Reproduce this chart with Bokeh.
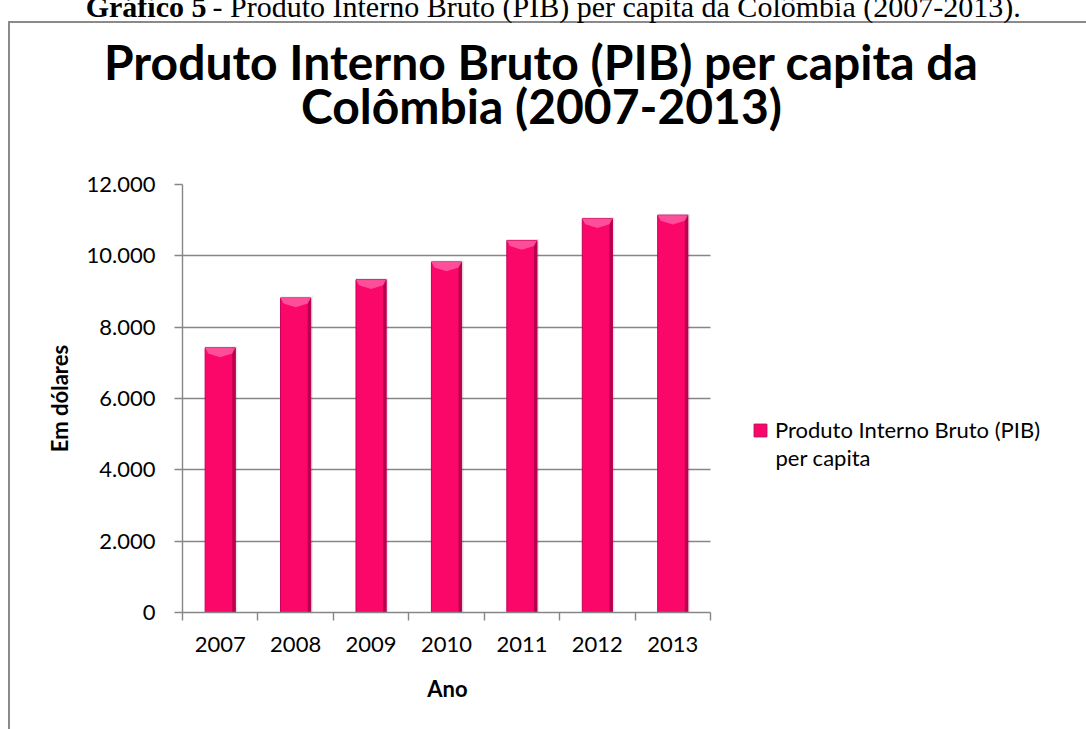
from bokeh.plotting import figure
from bokeh.models import Range1d, FixedTicker, Label, Legend, LegendItem, Grid
from bokeh.embed import file_html
from bokeh.resources import INLINE

# ---- data ----
years = ["2007", "2008", "2009", "2010", "2011", "2012", "2013"]
pib_per_capita = [7420, 8820, 9330, 9830, 10430, 11040, 11140]
y_ticks = [0, 2000, 4000, 6000, 8000, 10000, 12000]
y_tick_labels = ["0", "2.000", "4.000", "6.000", "8.000", "10.000", "12.000"]

caption_bold = "Gráfico 5"
caption_rest = "- Produto Interno Bruto (PIB) per capita da Colômbia (2007-2013)."
title_line1 = "Produto Interno Bruto (PIB) per capita da"
title_line2 = "Colômbia (2007-2013)"
legend_line1 = "Produto Interno Bruto (PIB)"
legend_line2 = "per capita"
x_title = "Ano"
y_title = "Em dólares"

# ---- styles / layout ----
FONT = "Lato"
GRAY = "#868686"
PINK = "#FB0769"
BAR_W = 0.4
Y_MAX = 12000
W, H = 1086, 729

n = len(years)
centers = [i + 0.5 for i in range(n)]

# plot area in picture pixels; the frame runs on to the right edge to hold the legend
FL, AX_R, FT, FB = 182, 710, 184, 612
PX_PER_CAT = (AX_R - FL) / n
X_END = (W - FL) / PX_PER_CAT


def dx(X):
    return (X - FL) / PX_PER_CAT


def dy(Y):
    return (FB - Y) * Y_MAX / (FB - FT)


p = figure(width=W, height=H, x_range=Range1d(0, X_END), y_range=Range1d(0, Y_MAX),
           output_backend="svg", toolbar_location=None,
           min_border_left=FL, min_border_right=0, min_border_top=FT, min_border_bottom=H - FB)
p.outline_line_color = None
p.background_fill_color = "white"
p.border_fill_color = None
# outer chart-area border (left and top edges), drawn behind the canvas
p.styles = {"background": "linear-gradient(#8a8a8a,#8a8a8a) 8px 21px / 2px 900px no-repeat, "
                          "linear-gradient(#8a8a8a,#8a8a8a) 8px 21px / 1200px 2px no-repeat, #ffffff"}

# grid (horizontal lines only, limited to the category area)
p.xgrid.grid_line_color = None
if "cross_bounds" in Grid.properties():
    p.ygrid.grid_line_color = GRAY
    p.ygrid.grid_line_width = 1.4
    p.ygrid.cross_bounds = (0, n)
else:
    p.ygrid.grid_line_color = None
    p.segment(x0=[0] * len(y_ticks), x1=[n] * len(y_ticks), y0=y_ticks, y1=y_ticks,
              line_color=GRAY, line_width=1.4)

# bars: soft shadow, body, right edge shading, top bevel
p.vbar(x=[c + 0.012 for c in centers], top=[v + 40 for v in pib_per_capita], width=BAR_W + 0.03,
       fill_color="black", fill_alpha=0.10, line_color=None)
bars = p.vbar(x=centers, top=pib_per_capita, width=BAR_W, fill_color=PINK,
              line_color="#C4005A", line_width=1)
p.vbar(x=[c + BAR_W / 2 - 0.02 for c in centers], top=pib_per_capita, width=0.04,
       fill_color="#B8004E", line_color=None)
d = 260
p.patches(xs=[[c - BAR_W / 2, c + BAR_W / 2, c + BAR_W / 2 - 0.04, c, c - BAR_W / 2 + 0.04] for c in centers],
          ys=[[v, v, v - d * 0.6, v - d, v - d * 0.6] for v in pib_per_capita],
          fill_color="#FF5AA2", fill_alpha=0.85, line_color=None)

# x axis
p.xaxis.bounds = (0, n)
p.xaxis.ticker = FixedTicker(ticks=centers, minor_ticks=list(range(n + 1)))
p.xaxis.major_label_overrides = {c: y for c, y in zip(centers, years)}
p.xaxis.axis_line_color = GRAY
p.xaxis.axis_line_width = 1.4
p.xaxis.major_tick_line_color = None
p.xaxis.major_tick_out = 8
p.xaxis.major_tick_in = 0
p.xaxis.minor_tick_line_color = GRAY
p.xaxis.minor_tick_line_width = 1.4
p.xaxis.minor_tick_out = 8
p.xaxis.minor_tick_in = 0
p.xaxis.major_label_standoff = 16
p.xaxis.major_label_text_font = FONT
p.xaxis.major_label_text_font_size = "22px"
p.xaxis.major_label_text_color = "black"

# y axis
p.yaxis.ticker = FixedTicker(ticks=y_ticks, minor_ticks=[])
p.yaxis.major_label_overrides = {t: s for t, s in zip(y_ticks, y_tick_labels)}
p.yaxis.axis_line_color = GRAY
p.yaxis.axis_line_width = 1.4
p.yaxis.major_tick_line_color = GRAY
p.yaxis.major_tick_line_width = 1.4
p.yaxis.major_tick_out = 8
p.yaxis.major_tick_in = 0
p.yaxis.minor_tick_line_color = None
p.yaxis.major_label_standoff = 19
p.yaxis.major_label_text_font = FONT
p.yaxis.major_label_text_font_size = "22px"
p.yaxis.major_label_text_color = "black"
p.yaxis.axis_label = y_title
p.yaxis.axis_label_text_font = FONT
p.yaxis.axis_label_text_font_style = "bold"
p.yaxis.axis_label_text_font_size = "22px"
p.yaxis.axis_label_text_color = "black"
p.yaxis.axis_label_standoff = 11

# x-axis title, centred under the category area (bottom panel, not clipped)
p.add_layout(Label(x=dx(447), y=dy(688), text=x_title,
                   text_font=FONT, text_font_style="bold", text_font_size="22px",
                   text_align="center", text_baseline="middle", text_color="black"), "below")

# caption (cut at the top edge, as in the source) and chart title, in the top panel
p.add_layout(Label(x=dx(206), y=dy(6), text=caption_bold,
                   text_font="Liberation Serif", text_font_style="bold", text_font_size="30px",
                   text_align="right", text_baseline="alphabetic", text_color="black"), "above")
p.add_layout(Label(x=dx(212), y=dy(6), text=caption_rest,
                   text_font="Liberation Serif", text_font_size="30px",
                   text_align="left", text_baseline="alphabetic", text_color="black"), "above")
for txt, Y in [(title_line1, 61), (title_line2, 105)]:
    p.add_layout(Label(x=dx(541), y=dy(Y), text=txt,
                       text_font=FONT, text_font_style="bold", text_font_size="48px",
                       text_align="center", text_baseline="alphabetic", text_color="black"), "above")

# legend (inside the frame, right of the category area)
legend = Legend(items=[LegendItem(label=legend_line1, renderers=[bars])],
                location=(752 - FL, FB - 443), padding=0, margin=0, spacing=0,
                border_line_color=None, background_fill_alpha=0,
                glyph_width=16, glyph_height=16, label_standoff=7,
                label_text_font=FONT, label_text_font_size="22px", label_text_color="black")
p.add_layout(legend)
p.add_layout(Label(x=dx(775), y=dy(457), text=legend_line2,
                   text_font=FONT, text_font_size="22px", text_align="left",
                   text_baseline="middle", text_color="black"))

open("out.html", "w").write(file_html(p, INLINE))
